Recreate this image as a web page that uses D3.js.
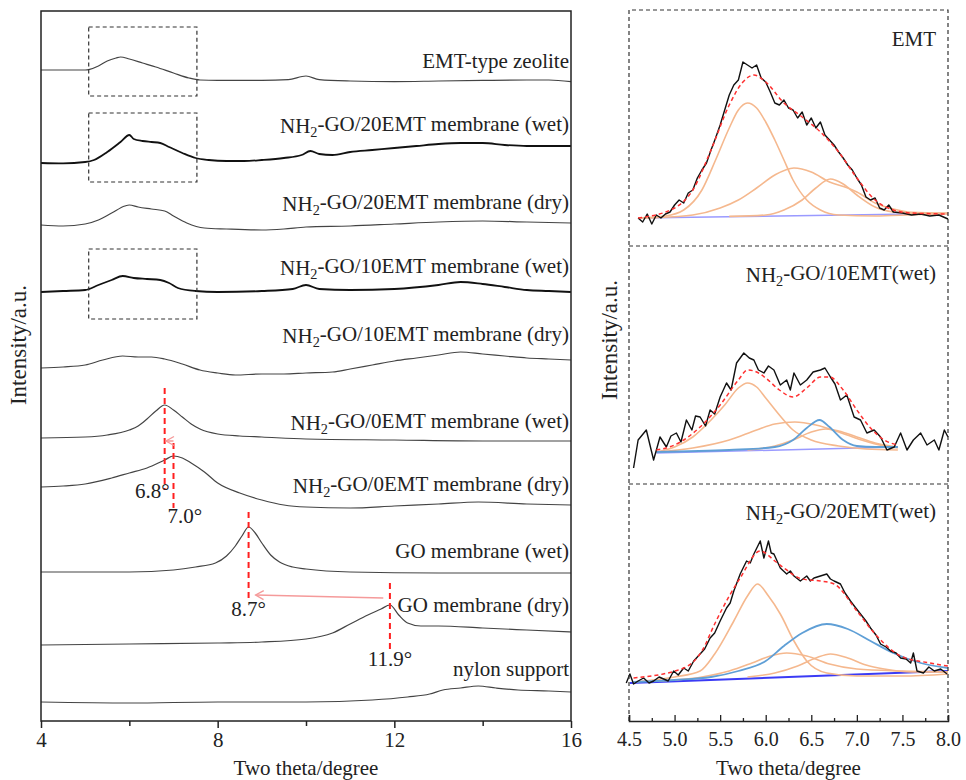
<!DOCTYPE html>
<html>
<head>
<meta charset="utf-8">
<script src="https://cdn.jsdelivr.net/npm/d3@7"></script>
<style>
  body { margin: 0; background: #fff; }
  text { font-family: "Liberation Serif", "Times New Roman", serif; fill: #222; }
</style>
</head>
<body>
<svg id="chart" width="966" height="780"></svg>
<script>
// XRD patterns, left panel (2theta, intensity relative to the curve's own offset)
const leftNames = [
  'EMT-type zeolite',
  'NH2-GO/20EMT membrane (wet)',
  'NH2-GO/20EMT membrane (dry)',
  'NH2-GO/10EMT membrane (wet)',
  'NH2-GO/10EMT membrane (dry)',
  'NH2-GO/0EMT membrane (wet)',
  'NH2-GO/0EMT membrane (dry)',
  'GO membrane (wet)',
  'GO membrane (dry)',
  'nylon support'
];
const leftOffsets = [325.5, 279, 248, 214.5, 176.5, 141.5, 117, 74.5, 38, 9.5];
const leftLabelLevels = [326.5, 294, 255, 223, 189, 145.5, 114, 81.5, 54.5, 22.5];
const leftNoisy = [false, true, false, true, false, false, false, false, false, false];

const emtZeolite = [[4,0],[4.5,0],[5,0],[5.1,0.3],[5.3,2],[5.5,4.5],[5.7,6],[5.8,6.5],[6,5.5],[6.3,3.5],[6.6,1.5],[7,-1.5],[7.35,-4],[7.6,-5],[8,-5.2],[9,-5.2],[9.6,-4.8],[10,-3],[10.3,-4.8],[11,-5.5],[12,-5.8],[13,-5.5],[14,-5.2],[15,-5],[15.5,-5],[16,-5.8]];
const emt20Wet = [[4,0],[4.5,-0.2],[5,0.5],[5.2,1.5],[5.5,5.5],[5.8,10.5],[6,14],[6.1,12],[6.3,11],[6.5,10.5],[6.7,10],[6.9,8],[7.2,5],[7.5,2.5],[7.8,1.5],[8.2,1],[8.6,1],[9,1.5],[9.5,2.5],[9.9,4],[10.1,6],[10.3,4.5],[10.6,4],[11,5.5],[11.5,6.5],[12,7.5],[12.5,8.5],[13,9.5],[13.5,10],[14,10],[14.5,9],[15,8.5],[15.5,8.5],[16,8.5]];
const emt20Dry = [[4,0],[4.5,-0.5],[5,0.5],[5.3,2.5],[5.6,6],[5.9,9.5],[6,10],[6.2,9],[6.5,8],[6.8,7],[7,4.5],[7.3,1],[7.7,-1.5],[8.2,-2],[9,-2.5],[9.5,-2],[10,-1],[11,-0.5],[12,0.5],[13,1.5],[14,2],[15,1.5],[16,1]];
const emt10Wet = [[4,0],[4.5,0.5],[5,1],[5.3,3.5],[5.6,6],[5.85,8],[6.1,7],[6.4,6.5],[6.7,6],[6.9,4.5],[7.1,2],[7.5,0.5],[8,0],[9,0.5],[9.7,1.5],[10,3.5],[10.3,1.5],[11,1],[12,1.5],[13,3.5],[13.5,5],[14,4],[14.5,2.5],[15,1],[15.5,0.5],[16,0]];
const emt10Dry = [[4,0],[4.5,0.5],[5,1.5],[5.4,4],[5.85,6],[6.2,5.5],[6.5,5.5],[6.8,4.5],[7.2,2],[7.6,-1],[8,-2.5],[8.4,-3.5],[9,-3],[9.5,-3],[10,-2.5],[10.6,-2],[11,-0.5],[11.5,1.5],[12,3.5],[12.5,5],[13,6.5],[13.5,8],[14,7],[14.5,6],[15,5],[15.5,4.5],[16,4]];
const emt0Wet = [[4,0],[5,0.5],[5.5,1.5],[6,4],[6.2,6],[6.4,9.5],[6.6,13.5],[6.8,16.5],[7,14],[7.2,10.5],[7.4,7],[7.6,4.5],[8,2],[8.5,1],[9,0.5],[10,-0.5],[12,-1],[14,-1.5],[16,-1.5]];
const emt0Dry = [[4,0],[4.5,0.5],[5,1.5],[5.6,4.5],[6,7],[6.4,9.5],[6.8,13.5],[7,15.5],[7.2,14.5],[7.4,12],[7.7,7.5],[8,2],[8.5,-3],[9,-6.5],[9.5,-9],[10,-10],[11,-10.5],[12,-9.5],[13,-8.5],[13.9,-7.5],[15,-8.5],[16,-9]];
const goWet = [[4,0],[6,0],[7,1],[7.5,2.5],[7.95,4.5],[8.2,8],[8.4,13],[8.55,18],[8.7,22.5],[8.85,19.5],[9,14.5],[9.2,8.5],[9.4,5],[9.7,2.5],[10,1.5],[11,0],[13,-0.5],[16,-0.5]];
const goDry = [[4,0],[6,0.5],[8,1],[9,1.5],[10,3],[10.6,6],[11,10.5],[11.4,15],[11.7,18],[11.9,20],[12.1,15],[12.3,11],[12.6,9.5],[13,9.5],[14,8.5],[15,7.5],[16,6.5]];
const nylon = [[4,0],[6,-0.5],[8,0],[10,0],[11.5,1],[12.3,2.5],[12.8,4],[13.1,6],[13.5,7],[13.9,8],[14.3,7],[14.8,6],[15.5,5.5],[16,5]];
const leftSeries = [emtZeolite, emt20Wet, emt20Dry, emt10Wet, emt10Dry, emt0Wet, emt0Dry, goWet, goDry, nylon];

// dashed boxes [x0, x1, top, bottom] in axis units
const zoomBoxes = [[5.08, 7.53, 347, 312.5], [5.08, 7.53, 304, 269.5], [5.08, 7.53, 236, 201]];
// red dashed peak markers [2theta, top, bottom]
const peakLines = [[6.8, 166.5, 115.5], [7.0, 139, 106.5], [8.7, 104.5, 60.5], [11.9, 69, 35.5]];
const peakLabels = [['6.8°', 6.8, 111.5, 'end', 5], ['7.0°', 7.0, 99, 'start', -6], ['8.7°', 8.7, 52.5, 'middle', 0], ['11.9°', 11.9, 27.5, 'middle', 0]];
// shift arrows [x from, y from, x to, y to]
const shiftArrows = [[7.0, 140, 6.83, 140], [11.75, 61.5, 8.86, 63]];

const leftTicks = [4, 8, 12, 16];
const leftMinor = [6, 10, 14];
const rightTicks = [4.5, 5.0, 5.5, 6.0, 6.5, 7.0, 7.5, 8.0];
const rightMinor = [4.75, 5.25, 5.75, 6.25, 6.75, 7.25, 7.75];

// Right panels: peak fitting
const emtRaw = [[4.6,14],[4.65,12],[4.7,16],[4.75,11],[4.8,15.5],[4.85,14],[4.9,16],[4.95,17],[5.0,20.5],[5.05,23],[5.1,21.5],[5.15,26.5],[5.2,28],[5.25,34],[5.3,38],[5.35,41.5],[5.4,48],[5.45,54],[5.5,60.5],[5.55,68],[5.6,75.5],[5.65,80.5],[5.7,83],[5.75,92],[5.8,90.5],[5.85,89],[5.9,90.5],[5.95,84],[6.0,82],[6.05,77],[6.1,71.5],[6.15,70.5],[6.2,73],[6.25,69],[6.3,68],[6.35,64],[6.4,67],[6.45,60.5],[6.5,64],[6.55,59],[6.6,62],[6.65,55.5],[6.7,53],[6.75,50.5],[6.8,47],[6.85,44],[6.9,40.5],[6.95,38],[7.0,34],[7.05,30.5],[7.1,24.5],[7.15,23],[7.2,24],[7.25,19],[7.3,18],[7.35,20.5],[7.4,17],[7.5,16.5],[7.6,15.5],[7.7,16],[7.8,15],[7.9,15.5],[8.0,13.5]];
const emtFit = [[4.6,14],[5.0,19],[5.2,28],[5.4,48],[5.6,70.5],[5.75,82],[5.87,85.5],[6.0,82],[6.2,71.5],[6.4,64.5],[6.6,57],[6.8,47],[7.0,34],[7.2,23],[7.4,18],[7.6,16.5],[8.0,16]];
const emtComps = [
  [[4.6,14],[4.9,15],[5.1,18],[5.3,28],[5.45,43],[5.6,59],[5.7,68],[5.8,71.5],[5.9,69],[6.0,62],[6.1,53],[6.2,43],[6.3,33],[6.45,23],[6.6,18],[6.8,15.5],[7.2,15],[7.6,15.6],[8.0,16.2]],
  [[4.6,14],[4.8,14.2],[5.2,15.5],[5.5,19],[5.7,23],[5.9,29],[6.1,35.5],[6.31,39],[6.5,37],[6.7,32],[6.9,29],[7.0,27],[7.2,21.5],[7.4,18.5],[7.6,16.8],[8.0,16.3]],
  [[5.6,14.8],[6.0,15.5],[6.2,18],[6.4,23],[6.55,29],[6.71,33.5],[6.85,31],[7.0,25.5],[7.2,19.5],[7.4,17],[7.6,16.4],[8.0,16.3]]
];
const emtBlue = [];
const emtBase = [[4.6,14],[8.0,16.3]];

const w10Raw = [[4.55,8],[4.6,22],[4.69,27],[4.77,12],[4.84,23.5],[4.91,18.5],[4.96,24],[5.02,25.5],[5.07,21],[5.13,32],[5.19,27],[5.23,34],[5.28,33.5],[5.34,29],[5.39,37],[5.44,35],[5.5,43.5],[5.57,50.5],[5.62,47],[5.68,60.5],[5.76,65.5],[5.82,63],[5.87,62],[5.92,57],[5.98,55.5],[6.03,59],[6.09,57],[6.16,49.5],[6.23,52],[6.27,47],[6.31,55.5],[6.38,49.5],[6.45,52],[6.52,56],[6.6,57],[6.65,58],[6.71,53.5],[6.76,50],[6.82,42],[6.89,44.5],[6.97,33.5],[7.04,32],[7.11,25.5],[7.19,27],[7.26,23.5],[7.33,17],[7.41,18.5],[7.48,25.5],[7.55,17],[7.62,22],[7.7,25.5],[7.77,19.5],[7.85,22],[7.9,17],[7.96,27],[8.0,23.5]];
const w10Fit = [[4.8,17],[5.0,19.5],[5.28,28.5],[5.5,39.5],[5.7,52],[5.8,57],[5.9,56],[6.0,53],[6.15,47],[6.3,43.5],[6.45,48],[6.6,53.5],[6.7,53.5],[6.85,47],[7.0,37],[7.15,28],[7.3,22],[7.45,19.5]];
const w10Comps = [
  [[4.8,16],[5.0,18.5],[5.2,23.5],[5.4,32],[5.55,39.5],[5.7,48],[5.8,50.5],[5.9,48.5],[6.0,43],[6.15,34.5],[6.3,27],[6.5,22],[6.8,19],[7.1,17.5],[7.45,17]],
  [[4.8,16],[5.2,18],[5.6,22],[5.9,27],[6.1,30],[6.32,31],[6.55,29.5],[6.8,26],[7.05,22],[7.3,19],[7.45,18]],
  [[5.8,17],[6.1,19],[6.3,22],[6.5,26],[6.66,27.5],[6.8,26.5],[7.0,23.5],[7.2,20.5],[7.45,18.5]]
];
const w10Blue = [[4.8,16],[5.6,17],[6.1,18.5],[6.3,22],[6.45,28],[6.59,32],[6.7,28.5],[6.85,22],[7.0,19],[7.2,18.5],[7.45,18.5]];
const w10Base = [[4.8,15.5],[7.45,18.5]];

const w20Raw = [[4.47,19],[4.51,23.5],[4.55,18.5],[4.6,20],[4.66,21.5],[4.72,19],[4.77,20],[4.83,22],[4.88,21],[4.93,20],[4.99,25],[5.04,23],[5.1,26.5],[5.15,25],[5.21,30],[5.28,33.5],[5.33,36],[5.39,41.5],[5.44,44],[5.5,50],[5.57,56.5],[5.61,59],[5.65,65],[5.72,73.5],[5.79,80],[5.83,79],[5.87,83.5],[5.94,90],[5.98,81.5],[6.03,90],[6.06,84],[6.09,83.5],[6.16,76.5],[6.23,73.5],[6.27,75],[6.31,72.5],[6.38,70],[6.45,72.5],[6.49,70],[6.53,71.5],[6.6,72.5],[6.67,73.5],[6.71,71],[6.75,70],[6.82,68.5],[6.87,64],[6.93,60],[6.98,57],[7.04,53.5],[7.1,50],[7.15,46.5],[7.21,43],[7.26,38.5],[7.32,37],[7.37,35],[7.43,34],[7.48,31.5],[7.54,31],[7.59,29],[7.62,34],[7.66,25],[7.73,24],[7.79,27],[7.85,25],[7.92,26],[7.99,23.5]];
const w20Fit = [[4.55,21.5],[5.1,26.5],[5.3,35],[5.44,48.5],[5.6,62.5],[5.72,71.5],[5.94,85],[6.1,80],[6.2,76.5],[6.4,71],[6.6,70],[6.75,68.5],[7.0,55],[7.2,43.5],[7.48,32.5],[7.8,29],[8.0,27.5]];
const w20Comps = [
  [[4.55,19.5],[5.0,22],[5.28,25],[5.44,33.5],[5.65,50],[5.8,62.5],[5.91,68.5],[6.03,62.5],[6.16,53.5],[6.31,40],[6.45,30],[6.67,24],[7.0,22.5],[7.5,22.5],[8.0,23.5]],
  [[4.8,20],[5.3,22],[5.6,25],[5.85,29],[6.05,32.5],[6.23,34],[6.45,32.5],[6.7,28.5],[7.0,26],[7.5,25],[8.0,24.5]],
  [[5.8,22],[6.1,24],[6.35,27.5],[6.55,31.5],[6.71,33.5],[6.9,31.5],[7.1,28],[7.3,26],[7.6,24.5],[8.0,24.5]]
];
const w20Blue = [[4.55,19.5],[5.0,20.5],[5.4,22],[5.7,25],[6.0,30],[6.2,37.5],[6.4,44],[6.67,48.5],[6.9,46],[7.15,40],[7.4,34],[7.7,29],[8.0,26.5]];
const w20Base = [[4.51,19],[8.0,25]];

const panelNames = ['EMT', 'NH2-GO/10EMT(wet)', 'NH2-GO/20EMT(wet)'];
const panelRaw = [emtRaw, w10Raw, w20Raw];
const panelFit = [emtFit, w10Fit, w20Fit];
const panelComps = [emtComps, w10Comps, w20Comps];
const panelBlue = [emtBlue, w10Blue, w20Blue];
const panelBase = [emtBase, w10Base, w20Base];

// ---- layout
const svg = d3.select('#chart');
const L = { left: 41, right: 571, top: 11, bottom: 721 };
const R = { left: 629, right: 948, top: 10, bottom: 721 };
const panelEdges = [10, 246, 484, 721];

function addName(sel, name) {
  // draw "NH2" with a subscript 2
  if (name.startsWith('NH2')) {
    sel.append('tspan').text('NH');
    sel.append('tspan').text('2').attr('font-size', '0.68em').attr('dy', '0.3em');
    sel.append('tspan').text(name.slice(3)).attr('dy', '-0.3em');
  } else {
    sel.text(name);
  }
}

// ---- left panel
const xL = d3.scaleLinear().domain([4, 16]).range([L.left, L.right]);
const yL = d3.scaleLinear().domain([0, 355]).range([L.bottom, L.top]);

const gL = svg.append('g');

leftSeries.forEach((s, i) => {
  const line = d3.line()
    .x(d => xL(d[0]))
    .y(d => yL(d[1] + leftOffsets[i]))
    .curve(d3.curveMonotoneX);
  gL.append('path')
    .attr('d', line(s))
    .attr('fill', 'none')
    .attr('stroke', leftNoisy[i] ? '#111' : '#444')
    .attr('stroke-width', leftNoisy[i] ? 1.8 : 1.2);

  const t = gL.append('text')
    .attr('x', L.right - 2)
    .attr('y', yL(leftLabelLevels[i]))
    .attr('text-anchor', 'end')
    .attr('font-size', '21px');
  addName(t, leftNames[i]);
});

zoomBoxes.forEach(b => {
  gL.append('rect')
    .attr('x', xL(b[0])).attr('y', yL(b[2]))
    .attr('width', xL(b[1]) - xL(b[0]))
    .attr('height', yL(b[3]) - yL(b[2]))
    .attr('fill', 'none')
    .attr('stroke', '#333')
    .attr('stroke-width', 1.2)
    .attr('stroke-dasharray', '4,3');
});

peakLines.forEach(p => {
  gL.append('line')
    .attr('x1', xL(p[0])).attr('x2', xL(p[0]))
    .attr('y1', yL(p[1])).attr('y2', yL(p[2]))
    .attr('stroke', '#ff2020')
    .attr('stroke-width', 2)
    .attr('stroke-dasharray', '6,4');
});

svg.append('defs').append('marker')
  .attr('id', 'chev')
  .attr('viewBox', '-10 -6 12 12')
  .attr('refX', 0).attr('refY', 0)
  .attr('markerUnits', 'userSpaceOnUse')
  .attr('markerWidth', 12).attr('markerHeight', 12)
  .attr('orient', 'auto')
  .append('path')
  .attr('d', 'M-8,-4.5 L0,0 L-8,4.5')
  .attr('fill', 'none')
  .attr('stroke', '#f59a9a')
  .attr('stroke-width', 1.4);

shiftArrows.forEach(a => {
  gL.append('line')
    .attr('x1', xL(a[0])).attr('y1', yL(a[1]))
    .attr('x2', xL(a[2])).attr('y2', yL(a[3]))
    .attr('stroke', '#f59a9a')
    .attr('stroke-width', 1.5)
    .attr('marker-end', 'url(#chev)');
});

peakLabels.forEach(p => {
  gL.append('text')
    .attr('x', xL(p[1]) + p[4])
    .attr('y', yL(p[2]))
    .attr('text-anchor', p[3])
    .attr('font-size', '21px')
    .text(p[0]);
});

gL.append('rect')
  .attr('x', L.left).attr('y', L.top)
  .attr('width', L.right - L.left).attr('height', L.bottom - L.top)
  .attr('fill', 'none').attr('stroke', '#222').attr('stroke-width', 1.5);

const axL = svg.append('g').attr('transform', `translate(0,${L.bottom})`)
  .call(d3.axisBottom(xL).tickValues(leftTicks).tickFormat(d3.format('d')).tickSize(7).tickPadding(4));
axL.select('.domain').remove();
const axLm = svg.append('g').attr('transform', `translate(0,${L.bottom})`)
  .call(d3.axisBottom(xL).tickValues(leftMinor).tickFormat('').tickSize(5));
axLm.select('.domain').remove();
[axL, axLm].forEach(a => a.selectAll('line').attr('stroke', '#222').attr('stroke-width', 1.5));
axL.selectAll('text').attr('font-size', '21px').attr('fill', '#222')
  .style('font-family', '"Liberation Serif", serif');

svg.append('text')
  .attr('x', (L.left + L.right) / 2).attr('y', 775)
  .attr('text-anchor', 'middle').attr('font-size', '21px')
  .text('Two theta/degree');
svg.append('text')
  .attr('transform', 'translate(26,345) rotate(-90)')
  .attr('text-anchor', 'middle').attr('font-size', '23px')
  .text('Intensity/a.u.');

// ---- right panels
const xR = d3.scaleLinear().domain([4.5, 8.0]).range([R.left, R.right]);
const gR = svg.append('g');

panelNames.forEach((name, i) => {
  const top = panelEdges[i], bottom = panelEdges[i + 1];
  const y = d3.scaleLinear().domain([0, (bottom - top) / 2]).range([bottom, top]);
  const smooth = d3.line().x(d => xR(d[0])).y(d => y(d[1])).curve(d3.curveMonotoneX);
  const raw = d3.line().x(d => xR(d[0])).y(d => y(d[1]));

  gR.append('path').attr('d', raw(panelBase[i]))
    .attr('fill', 'none')
    .attr('stroke', i === 2 ? '#3b3bf5' : '#9a9aff')
    .attr('stroke-width', i === 2 ? 2 : 1.5);

  panelComps[i].forEach(c => {
    gR.append('path').attr('d', smooth(c))
      .attr('fill', 'none').attr('stroke', '#f5b88e').attr('stroke-width', 1.6);
  });
  if (panelBlue[i].length) {
    gR.append('path').attr('d', smooth(panelBlue[i]))
      .attr('fill', 'none').attr('stroke', '#5f9fd6').attr('stroke-width', 1.8);
  }
  gR.append('path').attr('d', raw(panelRaw[i]))
    .attr('fill', 'none').attr('stroke', '#111').attr('stroke-width', 1.4)
    .attr('stroke-linejoin', 'round');
  gR.append('path').attr('d', smooth(panelFit[i]))
    .attr('fill', 'none').attr('stroke', '#ff3030').attr('stroke-width', 1.5)
    .attr('stroke-dasharray', '4,3');

  const t = gR.append('text')
    .attr('x', R.right - 12)
    .attr('y', top + 36)
    .attr('text-anchor', 'end')
    .attr('font-size', '21px');
  addName(t, name);

  if (i > 0) {
    gR.append('line')
      .attr('x1', R.left).attr('x2', R.right)
      .attr('y1', top).attr('y2', top)
      .attr('stroke', '#333').attr('stroke-width', 1.2).attr('stroke-dasharray', '4,3');
  }
});

// dashed frame (top, left, right)
gR.append('path')
  .attr('d', `M${R.left},${R.bottom}V${R.top}H${R.right}V${R.bottom}`)
  .attr('fill', 'none').attr('stroke', '#333').attr('stroke-width', 1.2)
  .attr('stroke-dasharray', '4,3');

const axR = svg.append('g').attr('transform', `translate(0,${R.bottom})`)
  .call(d3.axisBottom(xR).tickValues(rightTicks).tickFormat(d3.format('.1f')).tickSize(-6).tickPadding(11));
axR.select('.domain').attr('stroke', '#222').attr('stroke-width', 1.5);
const axRm = svg.append('g').attr('transform', `translate(0,${R.bottom})`)
  .call(d3.axisBottom(xR).tickValues(rightMinor).tickFormat('').tickSize(-3));
axRm.select('.domain').remove();
[axR, axRm].forEach(a => a.selectAll('line').attr('stroke', '#222').attr('stroke-width', 1.3));
axR.selectAll('text').attr('font-size', '20px').attr('fill', '#222')
  .style('font-family', '"Liberation Serif", serif');

svg.append('text')
  .attr('x', (R.left + R.right) / 2).attr('y', 775)
  .attr('text-anchor', 'middle').attr('font-size', '21px')
  .text('Two theta/degree');
svg.append('text')
  .attr('transform', 'translate(617,340) rotate(-90)')
  .attr('text-anchor', 'middle').attr('font-size', '23px')
  .text('Intensity/a.u.');
</script>
</body>
</html>
